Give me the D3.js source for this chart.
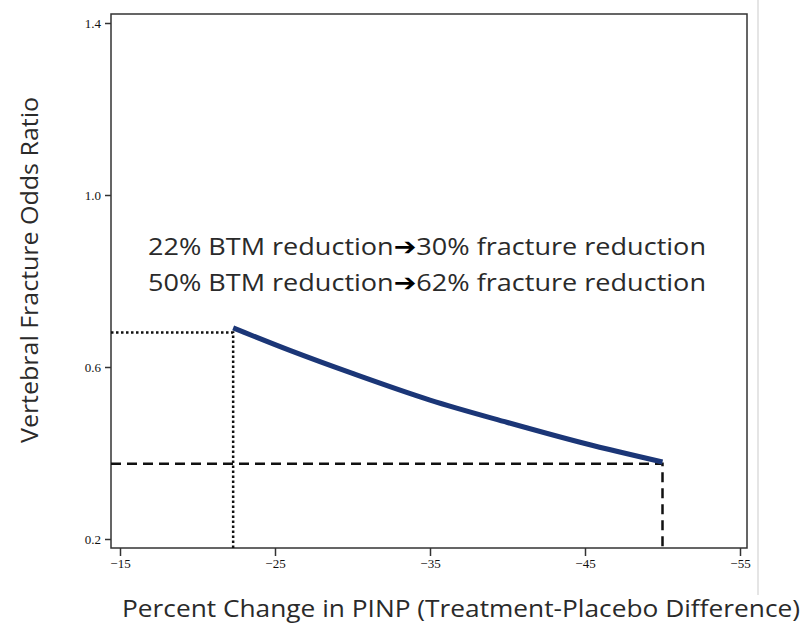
<!DOCTYPE html>
<html>
<head>
<meta charset="utf-8">
<script src="https://cdn.jsdelivr.net/npm/d3@7"></script>
<style>
  body { margin: 0; background: #fff; }
  .tick text { font-family: "Liberation Serif", serif; font-size: 13px; fill: #111; }
  .tick line { stroke: #333; stroke-width: 1.5; }
</style>
</head>
<body>
<script>
// Data
var xTicks = [-15, -25, -35, -45, -55];
var yTicks = [0.2, 0.6, 1.0, 1.4];
// fitted odds-ratio curve (percent change, odds ratio)
var curveX = [-22.3, -26, -30, -35, -40, -45, -50];
var curveY = [0.691, 0.638, 0.585, 0.523, 0.471, 0.422, 0.379];
// reference points marked by the guide lines
var lowPoint = {x: -22.3, y: 0.68};
var highPoint = {x: -50, y: 0.375};
var notesLeft = ['22% BTM reduction', '50% BTM reduction'];
var notesRight = ['30% fracture reduction', '62% fracture reduction'];

var svg = d3.select('body').append('svg')
    .attr('width', 804)
    .attr('height', 632);

// scales
var x = d3.scaleLinear().domain([-15, -55]).range([120, 740]);
var y = d3.scaleLinear().domain([0.2, 1.4]).range([539, 23]);

// plot frame
var frame = {left: 111, top: 14, right: 747, bottom: 548};
svg.append('rect')
    .attr('x', frame.left)
    .attr('y', frame.top)
    .attr('width', frame.right - frame.left)
    .attr('height', frame.bottom - frame.top)
    .attr('fill', 'none')
    .attr('stroke', '#333')
    .attr('stroke-width', 1.5);

// faint edge line on the right of the picture
svg.append('line')
    .attr('x1', 758).attr('x2', 758)
    .attr('y1', 0).attr('y2', 595)
    .attr('stroke', '#ddd')
    .attr('stroke-width', 1.5);

// axes
var xAxis = svg.append('g')
    .attr('transform', 'translate(0,' + frame.bottom + ')')
    .call(d3.axisBottom(x).tickValues(xTicks).tickSize(8).tickPadding(3)
        .tickFormat(function(d){ return '\u2212' + Math.abs(d); }));
xAxis.select('.domain').remove();

var yAxis = svg.append('g')
    .attr('transform', 'translate(' + frame.left + ',0)')
    .call(d3.axisLeft(y).tickValues(yTicks).tickSize(6).tickPadding(4)
        .tickFormat(d3.format('.1f')));
yAxis.select('.domain').remove();

// guide lines
svg.append('path')
    .attr('d', 'M' + frame.left + ',' + y(lowPoint.y) + 'H' + x(lowPoint.x) + 'V' + frame.bottom)
    .attr('fill', 'none')
    .attr('stroke', '#111')
    .attr('stroke-width', 2.5)
    .attr('stroke-dasharray', '2.5,2.5');

svg.append('path')
    .attr('d', 'M' + frame.left + ',' + y(highPoint.y) + 'H' + x(highPoint.x) + 'V' + frame.bottom)
    .attr('fill', 'none')
    .attr('stroke', '#111')
    .attr('stroke-width', 2.5)
    .attr('stroke-dasharray', '10,6');

// the curve
var line = d3.line()
    .x(function(d){ return x(d[0]); })
    .y(function(d){ return y(d[1]); })
    .curve(d3.curveMonotoneX);

svg.append('path')
    .datum(d3.zip(curveX, curveY))
    .attr('d', line)
    .attr('fill', 'none')
    .attr('stroke', '#1b3677')
    .attr('stroke-width', 5);

// annotation text
var notes = svg.selectAll('.note')
    .data(d3.zip(notesLeft, notesRight))
    .enter()
    .append('text')
    .attr('class', 'note')
    .attr('x', 148)
    .attr('y', function(d, i){ return 255 + i * 36; })
    .attr('textLength', 558)
    .attr('lengthAdjust', 'spacingAndGlyphs')
    .style('font-family', '"Open Sans", sans-serif')
    .style('font-size', '24px')
    .style('fill', '#2a2a2a');
notes.append('tspan').text(function(d){ return d[0]; });
notes.append('tspan')
    .style('font-family', '"DejaVu Sans", sans-serif')
    .style('font-weight', 'bold')
    .style('fill', '#000')
    .text('\u2794');
notes.append('tspan').text(function(d){ return d[1]; });

// axis titles
svg.append('text')
    .attr('x', 122)
    .attr('y', 617)
    .attr('textLength', 678)
    .attr('lengthAdjust', 'spacingAndGlyphs')
    .style('font-family', '"Open Sans", sans-serif')
    .style('font-size', '23px')
    .style('fill', '#2a2a2a')
    .text('Percent Change in PINP (Treatment-Placebo Difference)');

svg.append('text')
    .attr('transform', 'translate(38,443) rotate(-90)')
    .attr('x', 0)
    .attr('y', 0)
    .attr('textLength', 346)
    .attr('lengthAdjust', 'spacingAndGlyphs')
    .style('font-family', '"Open Sans", sans-serif')
    .style('font-size', '23px')
    .style('fill', '#2a2a2a')
    .text('Vertebral Fracture Odds Ratio');
</script>
</body>
</html>
